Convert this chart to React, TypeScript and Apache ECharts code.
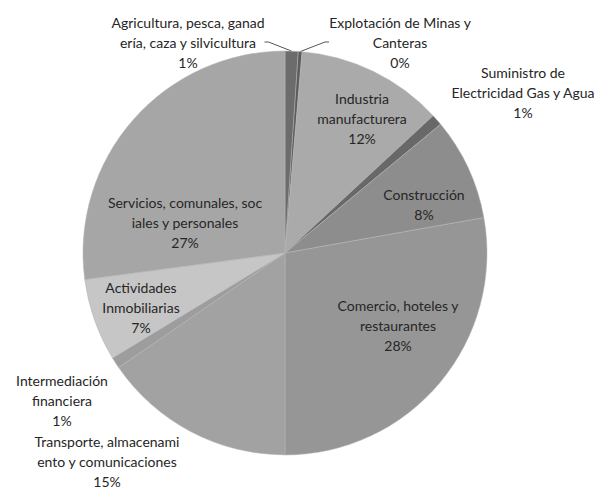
import React, { useEffect, useRef } from "react";
import * as echarts from "echarts";

const categories: string[] = [
  "Agricultura, pesca, ganad\nería, caza y silvicultura",
  "Explotación de Minas y\nCanteras",
  "Industria\nmanufacturera",
  "Suministro de\nElectricidad Gas y Agua",
  "Construcción",
  "Comercio, hoteles y\nrestaurantes",
  "Transporte, almacenami\nento y comunicaciones",
  "Intermediación\nfinanciera",
  "Actividades\nInmobiliarias",
  "Servicios, comunales, soc\niales y personales",
];

const shares: number[] = [1.05, 0.3, 11.75, 0.9, 8.2, 27.8, 15.4, 0.9, 6.6, 27.1];

const sliceColors: string[] = [
  "#6c6c6c",
  "#5c5c5c",
  "#aaaaaa",
  "#686868",
  "#8d8d8d",
  "#969696",
  "#a2a2a2",
  "#9d9d9d",
  "#c6c6c6",
  "#a6a6a6",
];

// label centres (layout only)
const labelPos: [number, number][] = [
  [188, 42],
  [400, 42],
  [362, 118],
  [523, 92],
  [424, 204],
  [398, 325],
  [107, 461],
  [62, 400],
  [141, 307],
  [185, 222],
];

const withLine = [true, true, false, false, false, false, false, false, false, false];

export default function App() {
  const ref = useRef<HTMLDivElement>(null);
  useEffect(() => {
    if (!ref.current) return;
    const chart = echarts.init(ref.current, null, { renderer: "svg" });
    chart.setOption({
      animation: false,
      backgroundColor: "#ffffff",
      series: [
        {
          type: "pie",
          center: [285, 253],
          radius: 202,
          startAngle: 90,
          clockwise: true,
          avoidLabelOverlap: false,
          minAngle: 0,
          itemStyle: { borderColor: "#b4b4b4", borderWidth: 0.5 },
          label: {
            show: true,
            position: "outside",
            fontFamily: "Lato",
            fontSize: 14,
            lineHeight: 20,
            color: "#262626",
            align: "center",
            formatter: (p: any) => `${p.name}\n${Math.round(p.percent)}%`,
          },
          labelLine: { show: false, lineStyle: { color: "#555555", width: 1 } },
          labelLayout: (params: any) => {
            const pos = labelPos[params.dataIndex];
            return { x: pos[0], y: pos[1], align: "center", verticalAlign: "middle" };
          },
          data: categories.map((name, i) => ({
            name,
            value: shares[i],
            itemStyle: { color: sliceColors[i] },
            labelLine: { show: withLine[i], length: 6, length2: 4 },
          })),
        },
      ],
    });
    return () => chart.dispose();
  }, []);
  return (
    <div
      ref={ref}
      style={{ position: "fixed", left: 0, top: 0, width: 603, height: 492 }}
    />
  );
}
